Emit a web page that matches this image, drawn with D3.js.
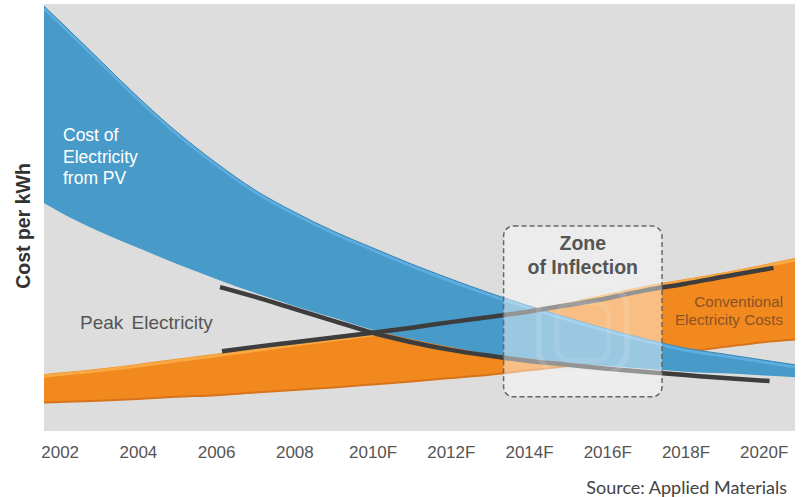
<!DOCTYPE html>
<html>
<head>
<meta charset="utf-8">
<script src="https://cdn.jsdelivr.net/npm/d3@7/dist/d3.min.js"></script>
<style>
  body { margin: 0; background: #fff; }
  svg { display: block; }
</style>
</head>
<body>
<svg id="chart"></svg>
<script>
// years along the x axis (ends are the plot edges)
const years = [2001.6, 2002, 2003, 2004, 2005, 2006, 2007, 2008, 2009, 2010, 2011,
               2012, 2013, 2014, 2015, 2016, 2017, 2018, 2019, 2020, 2020.8]

// cost of electricity from PV (band, arbitrary cost units)
const pvHigh = [99.5, 96.0, 87.1, 78.2, 70.0, 62.8, 56.4, 51.3, 46.8, 42.9, 39.1,
                35.6, 32.3, 29.3, 26.5, 23.9, 21.5, 19.4, 18.0, 16.6, 15.5]
const pvLow  = [53.4, 51.3, 46.8, 42.9, 39.1, 35.6, 32.3, 29.3, 26.5, 23.7, 21.5,
                19.7, 18.0, 16.9, 15.9, 15.2, 14.5, 13.9, 13.5, 13.0, 12.6]

// conventional electricity costs (band)
const convHigh = [13.3, 13.7, 14.6, 15.7, 16.9, 18.1, 19.3, 20.6, 21.8, 23.0, 24.2,
                  25.5, 26.9, 28.3, 30.1, 32.1, 34.0, 35.6, 37.2, 39.0, 40.5]
const convLow  = [6.7, 6.8, 7.1, 7.5, 8.0, 8.4, 9.0, 9.6, 10.2, 10.9, 11.6,
                  12.4, 13.2, 14.2, 15.2, 16.3, 17.3, 18.5, 19.7, 20.8, 21.4]

// peak electricity lines
const peakFallYears = [2006.1, 2007, 2008, 2009, 2010, 2011, 2012, 2013, 2014, 2015, 2016, 2017, 2018, 2019, 2020.15]
const peakFall      = [33.7, 31.4, 28.6, 25.8, 23.0, 20.8, 19.0, 17.6, 16.4, 15.5, 14.6, 13.8, 13.1, 12.4, 11.7]
const peakRiseYears = [2006.15, 2007, 2008, 2009, 2010, 2011, 2012, 2013, 2014, 2015, 2016, 2017, 2018, 2019, 2020.25]
const peakRise      = [18.7, 19.7, 20.8, 21.9, 23.0, 24.2, 25.5, 26.7, 28.0, 29.5, 31.1, 33.0, 34.5, 36.2, 38.2]

// zone of inflection
const zoneYears = [2013.35, 2017.4]
const zoneCost  = [8, 48]

// axis ticks
const tickYears  = [2002, 2004, 2006, 2008, 2010, 2012, 2014, 2016, 2018, 2020]
const tickLabels = ["2002", "2004", "2006", "2008", "2010F", "2012F", "2014F", "2016F", "2018F", "2020F"]

var W = 809, H = 497
var plot = {left: 44, right: 795, top: 4, bottom: 431}
var font = "'Liberation Sans', Arial, sans-serif"

var svg = d3.select("#chart").attr("width", W).attr("height", H)

var x = d3.scaleLinear().domain([years[0], years[years.length - 1]]).range([plot.left, plot.right])
var y = d3.scaleLinear().domain([0, 100]).range([plot.bottom, plot.top])

var defs = svg.append("defs")
defs.append("clipPath").attr("id", "clip")
    .append("rect")
    .attr("x", plot.left).attr("y", plot.top)
    .attr("width", plot.right - plot.left).attr("height", plot.bottom - plot.top)

svg.append("rect")
    .attr("x", plot.left).attr("y", plot.top)
    .attr("width", plot.right - plot.left).attr("height", plot.bottom - plot.top)
    .attr("fill", "#dcdddc")

var g = svg.append("g").attr("clip-path", "url(#clip)")

var band = (hi, lo) => d3.area()
    .x((d, i) => x(years[i]))
    .y0((d, i) => y(lo[i]))
    .y1((d, i) => y(hi[i]))
    .curve(d3.curveMonotoneX)(years)

var edge = (xs, vs) => d3.line()
    .x((d, i) => x(xs[i]))
    .y((d, i) => y(vs[i]))
    .curve(d3.curveMonotoneX)(xs)

// conventional band
g.append("path").attr("d", band(convHigh, convLow)).attr("fill", "#f2891f")
g.append("path").attr("d", edge(years, convLow))
    .attr("fill", "none").attr("stroke", "#d9731a").attr("stroke-width", 2)
g.append("path").attr("d", edge(years, convHigh))
    .attr("transform", "translate(0,2)")
    .attr("fill", "none").attr("stroke", "#f9a944").attr("stroke-width", 3)

// PV band
g.append("path").attr("d", band(pvHigh, pvLow)).attr("fill", "#489bc8")
g.append("path").attr("d", edge(years, pvHigh))
    .attr("transform", "translate(0,2)")
    .attr("fill", "none").attr("stroke", "#5dade0").attr("stroke-width", 3)
g.append("path").attr("d", edge(years, pvHigh))
    .attr("fill", "none").attr("stroke", "#3e87b0").attr("stroke-width", 1)

// peak electricity lines
g.append("path").attr("d", edge(peakFallYears, peakFall))
    .attr("fill", "none").attr("stroke", "#3d3d3d").attr("stroke-width", 4.5)
g.append("path").attr("d", edge(peakRiseYears, peakRise))
    .attr("fill", "none").attr("stroke", "#3d3d3d").attr("stroke-width", 4.5)

// zone of inflection box
var zx0 = x(zoneYears[0]), zx1 = x(zoneYears[1])
var zy0 = y(zoneCost[1]), zy1 = y(zoneCost[0])
g.append("rect")
    .attr("x", zx0).attr("y", zy0)
    .attr("width", zx1 - zx0).attr("height", zy1 - zy0)
    .attr("rx", 10)
    .attr("fill", "#fff").attr("fill-opacity", 0.45)
    .attr("stroke", "#666").attr("stroke-width", 1.5)
    .attr("stroke-dasharray", "5,3")

// faint logo watermark
var cx = (zx0 + zx1) / 2, cy = zy0 + 105
g.append("rect").attr("x", cx - 44).attr("y", cy - 48).attr("width", 88).attr("height", 92).attr("rx", 26)
    .attr("fill", "none").attr("stroke", "#fff").attr("stroke-opacity", 0.12).attr("stroke-width", 6)
g.append("rect").attr("x", cx - 26).attr("y", cy - 28).attr("width", 52).attr("height", 58).attr("rx", 14)
    .attr("fill", "none").attr("stroke", "#fff").attr("stroke-opacity", 0.1).attr("stroke-width", 5)

svg.append("text")
    .attr("x", cx).attr("y", zy0 + 24)
    .attr("text-anchor", "middle")
    .style("font-family", font).style("font-weight", "bold").style("font-size", "19.5px")
    .style("fill", "#555")
    .text("Zone")
svg.append("text")
    .attr("x", cx).attr("y", zy0 + 48)
    .attr("text-anchor", "middle")
    .style("font-family", font).style("font-weight", "bold").style("font-size", "19.5px")
    .style("fill", "#555")
    .text("of Inflection")

// band labels
var pv = svg.append("text")
    .style("font-family", font).style("font-size", "17.5px").style("fill", "#fff")
;["Cost of", "Electricity", "from PV"].forEach((t, i) => {
    pv.append("tspan").attr("x", 63).attr("y", 141 + i * 21.5).text(t)
})

svg.append("text")
    .attr("x", 80).attr("y", 329)
    .style("font-family", font).style("font-size", "19px").style("fill", "#555")
    .style("word-spacing", "3px")
    .text("Peak Electricity")

var conv = svg.append("text")
    .attr("text-anchor", "end")
    .style("font-family", font).style("font-size", "15.2px").style("fill", "#8b5226")
;["Conventional", "Electricity Costs"].forEach((t, i) => {
    conv.append("tspan").attr("x", 783).attr("y", 306.5 + i * 18).text(t)
})

// x axis
var xAxis = svg.append("g")
    .attr("transform", "translate(0," + plot.bottom + ")")
    .call(d3.axisBottom(x).tickValues(tickYears).tickFormat((d, i) => tickLabels[i]).tickSize(0).tickPadding(15))
xAxis.select(".domain").remove()
xAxis.selectAll("text")
    .style("font-family", font).style("font-size", "17px").style("fill", "#555")

// y axis label
svg.append("text")
    .attr("transform", "rotate(-90)")
    .attr("x", -226).attr("y", 30)
    .attr("text-anchor", "middle")
    .style("font-family", font).style("font-weight", "bold").style("font-size", "19.5px")
    .style("fill", "#333")
    .text("Cost per kWh")

// source
svg.append("text")
    .attr("x", 787).attr("y", 494)
    .attr("text-anchor", "end")
    .style("font-family", "Lato, 'Open Sans', sans-serif").style("font-size", "18px")
    .style("fill", "#444")
    .text("Source: Applied Materials")
</script>
</body>
</html>
